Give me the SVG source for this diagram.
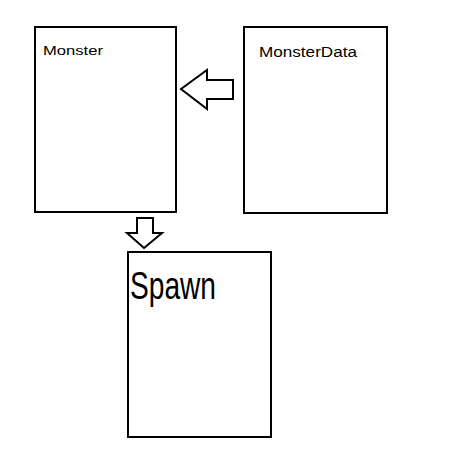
<svg xmlns="http://www.w3.org/2000/svg" width="453" height="473" viewBox="0 0 453 473">
<style>
.box{fill:#fff;stroke:#000;stroke-width:2}
.arr{fill:#fff;stroke:#000;stroke-width:2;stroke-linejoin:miter}
.lbl{font-family:"Liberation Sans",Arial,sans-serif;fill:#000}
</style>
<rect width="453" height="473" fill="#fff"/>
<g id="node-monster">
<rect class="box" x="35" y="27" width="141" height="185"/>
<text class="lbl" x="43" y="55" font-size="13" textLength="60" lengthAdjust="spacingAndGlyphs">Monster</text>
</g>
<g id="node-monsterdata">
<rect class="box" x="244" y="27" width="143" height="186"/>
<text class="lbl" x="259" y="57" font-size="14" textLength="98" lengthAdjust="spacingAndGlyphs">MonsterData</text>
</g>
<g id="node-spawn">
<rect class="box" x="128" y="252" width="143" height="185"/>
<text class="lbl" x="130" y="299" font-size="38" textLength="86" lengthAdjust="spacingAndGlyphs">Spawn</text>
</g>
<g id="connectors">
<polygon class="arr" points="181,89 207,70 207,80 233,80 233,99 207,99 207,109"/>
<polygon class="arr" points="137,218 153,218 153,233 162,233 144,248 127,233 137,233"/>
</g>
</svg>
